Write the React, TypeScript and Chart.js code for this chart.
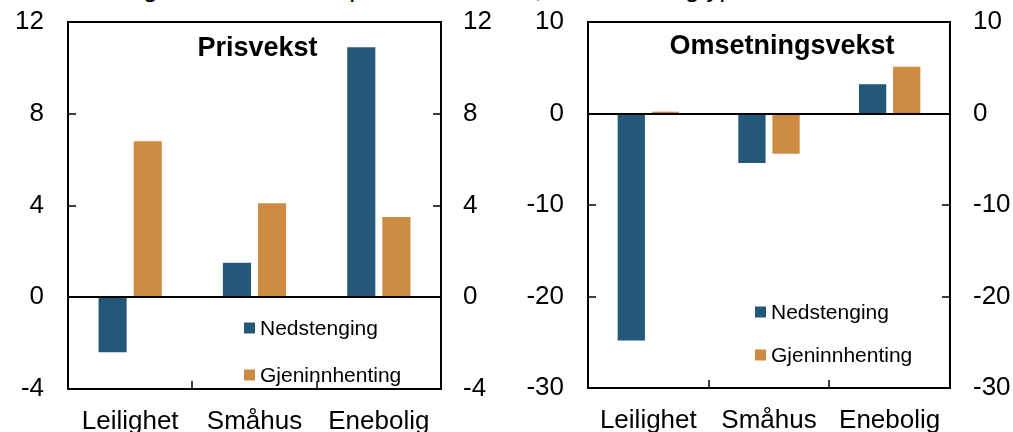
import React, { useEffect, useRef } from "react";
import { Chart, registerables } from "chart.js";
Chart.register(...registerables);

const categories = ["Leilighet", "Småhus", "Enebolig"];
const seriesNames = ["Nedstenging", "Gjeninnhenting"];
const seriesColors = ["#235878", "#CD8B42"];
const prisNedstenging = [-2.4, 1.5, 10.9];
const prisGjeninnhenting = [6.8, 4.1, 3.5];
const omsNedstenging = [-24.8, -5.4, 3.2];
const omsGjeninnhenting = [0.2, -4.4, 5.1];
const prisTicks = { min: -4, max: 12, step: 4 };
const omsTicks = { min: -30, max: 10, step: 10 };
const topCaption = "Prosentvis endring for hele landet i perioden samlet, for hver boligtype";

const FONT = '"Liberation Sans", Arial, sans-serif';

const framePlugin = {
  id: "frame",
  afterDatasetsDraw(chart: any, _args: any, opts: any) {
    const { ctx, chartArea: a, scales } = chart;
    ctx.save();
    ctx.strokeStyle = "#000";
    ctx.lineWidth = 2;
    const y0 = Math.round(scales.y.getPixelForValue(0));
    ctx.beginPath();
    ctx.moveTo(a.left, y0);
    ctx.lineTo(a.right, y0);
    ctx.stroke();
    ctx.strokeRect(a.left, a.top, a.right - a.left, a.bottom - a.top);
    ctx.lineWidth = 1.5;
    scales.y.ticks.forEach((t: any) => {
      const y = Math.round(scales.y.getPixelForValue(t.value));
      ctx.beginPath();
      ctx.moveTo(a.left, y);
      ctx.lineTo(a.left + 8, y);
      ctx.moveTo(a.right, y);
      ctx.lineTo(a.right - 8, y);
      ctx.stroke();
    });
    const xs = scales.x;
    for (let i = 1; i < chart.data.labels.length; i++) {
      const x = Math.round((xs.getPixelForValue(i - 1) + xs.getPixelForValue(i)) / 2);
      ctx.beginPath();
      ctx.moveTo(x, a.bottom);
      ctx.lineTo(x, a.bottom - 8);
      ctx.stroke();
    }
    ctx.fillStyle = "#000";
    ctx.font = `bold 27px ${FONT}`;
    ctx.textAlign = "center";
    ctx.textBaseline = "middle";
    ctx.fillText(opts.title, (a.left + a.right) / 2 + opts.titleDx, a.top + opts.titleDy);
    ctx.font = `21px ${FONT}`;
    ctx.textAlign = "left";
    chart.data.datasets.forEach((ds: any, i: number) => {
      const cy = a.top + opts.legendY + i * opts.legendGap;
      const lx = a.left + opts.legendX;
      ctx.fillStyle = ds.backgroundColor;
      ctx.fillRect(lx, cy - 5.5, 11, 11);
      ctx.fillStyle = "#000";
      ctx.fillText(ds.label, lx + 16, cy + 1);
    });
    ctx.restore();
  },
};

type Cfg = {
  width: number;
  left: number;
  right: number;
  bottom: number;
  a: number[];
  b: number[];
  ticks: { min: number; max: number; step: number };
  title: string;
  titleDx: number;
  titleDy: number;
  legendX: number;
  legendY: number;
  legendGap: number;
  padL: number;
  padR: number;
};

function Panel(p: Cfg) {
  const ref = useRef<HTMLCanvasElement>(null);
  useEffect(() => {
    const yCommon = {
      min: p.ticks.min,
      max: p.ticks.max,
      grid: { display: false, drawTicks: false },
      border: { display: false },
      ticks: {
        stepSize: p.ticks.step,
        color: "#000",
        font: { family: FONT, size: 26 },
      },
    };
    const chart = new Chart(ref.current as HTMLCanvasElement, {
      type: "bar",
      data: {
        labels: categories,
        datasets: [
          { label: seriesNames[0], data: p.a, backgroundColor: seriesColors[0] },
          { label: seriesNames[1], data: p.b, backgroundColor: seriesColors[1] },
        ],
      },
      options: {
        responsive: false,
        animation: false,
        layout: { padding: { top: 22, left: 0, right: 0, bottom: 0 } },
        datasets: { bar: { categoryPercentage: 0.565, barPercentage: 0.8 } },
        plugins: {
          legend: { display: false },
          tooltip: { enabled: false },
          frame: { title: p.title, titleDx: p.titleDx, titleDy: p.titleDy, legendX: p.legendX, legendY: p.legendY, legendGap: p.legendGap },
        } as any,
        scales: {
          x: {
            grid: { display: false, drawTicks: false },
            border: { display: false },
            ticks: { color: "#000", font: { family: FONT, size: 26 }, padding: 17, maxRotation: 0 },
            afterFit: (s: any) => { s.height = p.bottom; s.paddingLeft = 0; s.paddingRight = 0; },
          },
          y: {
            ...yCommon,
            position: "left",
            ticks: { ...yCommon.ticks, padding: p.padL },
            afterFit: (s: any) => { s.width = p.left; s.paddingTop = 0; s.paddingBottom = 0; },
          },
          y2: {
            ...yCommon,
            position: "right",
            ticks: { ...yCommon.ticks, padding: p.padR },
            afterFit: (s: any) => { s.width = p.right; s.paddingTop = 0; s.paddingBottom = 0; },
          },
        } as any,
      },
      plugins: [framePlugin],
    });
    return () => chart.destroy();
  }, []);
  return <canvas ref={ref} width={p.width} height={432} style={{ display: "block", width: p.width, height: 432 }} />;
}

export default function App() {
  return (
    <div style={{ position: "fixed", left: 0, top: 0, width: 1013, height: 432, overflow: "hidden", background: "#fff" }}>
      <div style={{ position: "absolute", left: -56, top: -25, whiteSpace: "nowrap", font: `italic 26px ${FONT}`, lineHeight: "26px", color: "#000" }}>
        {topCaption}
      </div>
      <div style={{ position: "absolute", left: 0, top: 0 }}>
        <Panel width={500} left={68} right={59} bottom={43} a={prisNedstenging} b={prisGjeninnhenting} ticks={prisTicks}
          title="Prisvekst" titleDx={3} titleDy={27} legendX={176} legendY={306} legendGap={47} padL={24} padR={22} />
      </div>
      <div style={{ position: "absolute", left: 500, top: 0 }}>
        <Panel width={513} left={88} right={63} bottom={44} a={omsNedstenging} b={omsGjeninnhenting} ticks={omsTicks}
          title="Omsetningsvekst" titleDx={13} titleDy={25} legendX={167} legendY={290} legendGap={43} padL={24} padR={23} />
      </div>
    </div>
  );
}
